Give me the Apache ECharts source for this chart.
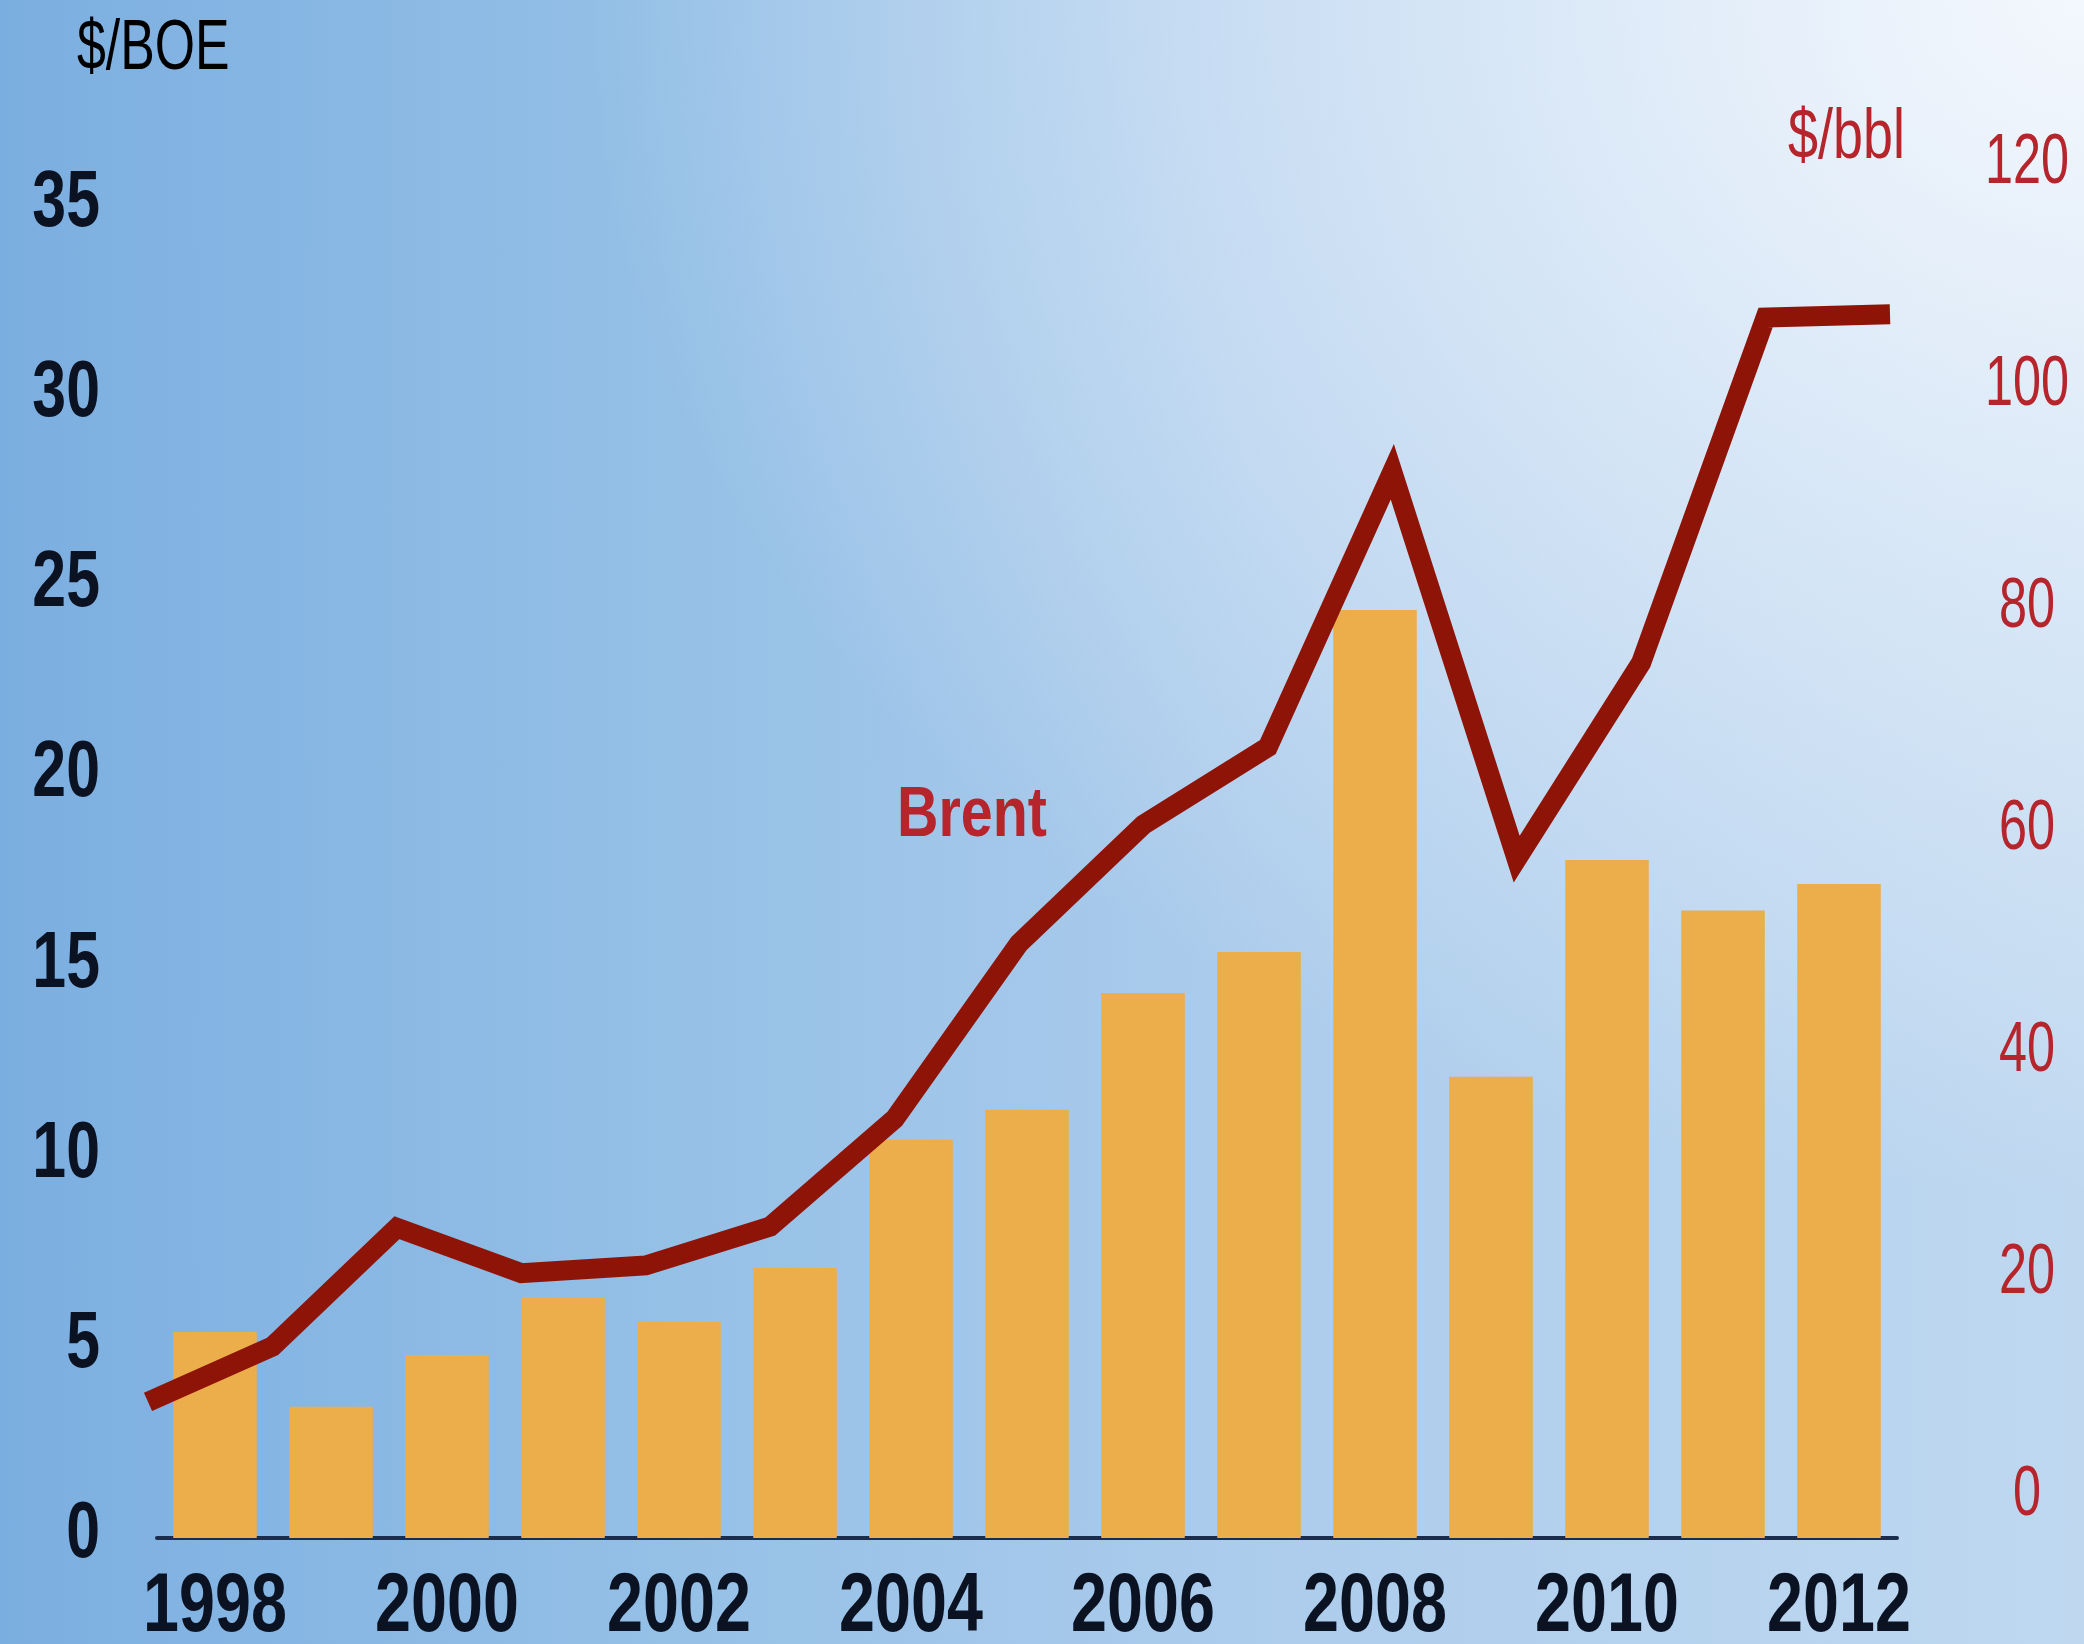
<!DOCTYPE html>
<html>
<head>
<meta charset="utf-8">
<script src="https://cdn.jsdelivr.net/npm/echarts/dist/echarts.min.js"></script>
<style>
html, body { margin: 0; padding: 0; width: 2084px; height: 1644px; overflow: hidden; }
body {
  background:
    radial-gradient(ellipse 1500px 1200px at 100% 0%, rgba(246,249,254,0.95) 0%, rgba(246,249,254,0.55) 40%, rgba(246,249,254,0) 100%),
    linear-gradient(to right, #7baee0 0%, #93bfe6 30%, #acccec 60%, #bfd8f0 100%);
}
#chart { width: 2084px; height: 1644px; }
</style>
</head>
<body>
<div id="chart"></div>
<script>
// ---- data ----
const years = ['1998','1999','2000','2001','2002','2003','2004','2005','2006','2007','2008','2009','2010','2011','2012'];
const costPerBoe = [5.42, 3.45, 4.81, 6.34, 5.68, 7.10, 10.47, 11.26, 14.33, 15.41, 24.4, 12.13, 17.83, 16.5, 17.2];
const brentPrice = [8.2, 13.2, 23.9, 19.8, 20.5, 24.0, 33.7, 49.5, 60.2, 67.2, 92.0, 57.1, 74.8, 105.9, 106.2];
const xTickLabels = ['1998','2000','2002','2004','2006','2008','2010','2012'];
const leftTicks = [0, 5, 10, 15, 20, 25, 30, 35];
const rightTicks = [0, 20, 40, 60, 80, 100, 120];
const leftAxisTitle = '$/BOE';
const rightAxisTitle = '$/bbl';
const lineLabel = 'Brent';

const FONT = '"Liberation Sans", Arial, sans-serif';
const RED = '#b5252b';
const DARK = '#0b1222';

const chart = echarts.init(document.getElementById('chart'), null, { renderer: 'canvas' });
chart.setOption({
  backgroundColor: 'transparent',
  animation: false,
  grid: [
    { left: 157, right: 187, top: 207, bottom: 106 },
    { left: 148, right: 194, top: 161, bottom: 151 }
  ],
  xAxis: [
    {
      type: 'category', gridIndex: 0, data: years, boundaryGap: true,
      axisLine: { show: true, lineStyle: { color: '#1b2d4d', width: 4 } },
      axisTick: { show: false },
      axisLabel: { show: false }
    },
    { type: 'category', gridIndex: 1, data: years, boundaryGap: false, show: false }
  ],
  yAxis: [
    {
      type: 'value', gridIndex: 0, min: 0, max: 35, interval: 5,
      axisLine: { show: false }, axisTick: { show: false }, splitLine: { show: false },
      axisLabel: { show: false }
    },
    {
      type: 'value', gridIndex: 1, position: 'right', min: 0, max: 120, interval: 20,
      axisLine: { show: false }, axisTick: { show: false }, splitLine: { show: false },
      axisLabel: { show: false }
    }
  ],
  series: [
    {
      type: 'bar', xAxisIndex: 0, yAxisIndex: 0, data: costPerBoe,
      barWidth: '72%', itemStyle: { color: '#ecad4b' }, z: 2
    },
    {
      type: 'line', xAxisIndex: 1, yAxisIndex: 1, data: brentPrice,
      symbol: 'none', lineStyle: { color: '#8f1408', width: 20, join: 'miter', cap: 'butt' }, z: 5
    }
  ]
});

// condensed-looking text: regular font squeezed horizontally
function txt(x, y, text, o) {
  return {
    type: 'text', x: x, y: y, scaleX: o.sx, z: 100,
    style: {
      text: text, x: 0, y: 0, fill: o.fill, fontFamily: FONT,
      fontWeight: o.bold ? 'bold' : 'normal', fontSize: o.size,
      align: o.align, verticalAlign: 'middle'
    }
  };
}
const g = [];
leftTicks.forEach(function (v) {
  const y = chart.convertToPixel({ yAxisIndex: 0 }, v);
  g.push(txt(100, y - 3, String(v), { sx: 0.76, fill: DARK, bold: true, size: 80, align: 'right' }));
});
rightTicks.forEach(function (v) {
  const y = chart.convertToPixel({ yAxisIndex: 1 }, v);
  g.push(txt(2027, y + 2, String(v), { sx: 0.71, fill: RED, bold: false, size: 71, align: 'center' }));
});
xTickLabels.forEach(function (c) {
  const x = chart.convertToPixel({ xAxisIndex: 0 }, c);
  g.push(txt(x, 1608, c, { sx: 0.77, fill: DARK, bold: true, size: 84, align: 'center' }));
});
g.push(txt(77, 50, leftAxisTitle, { sx: 0.74, fill: '#000000', bold: false, size: 70, align: 'left' }));
g.push(txt(1788, 139, rightAxisTitle, { sx: 0.77, fill: RED, bold: false, size: 70, align: 'left' }));
g.push(txt(897, 817, lineLabel, { sx: 0.82, fill: RED, bold: true, size: 70, align: 'left' }));
chart.setOption({ graphic: g });
</script>
</body>
</html>
